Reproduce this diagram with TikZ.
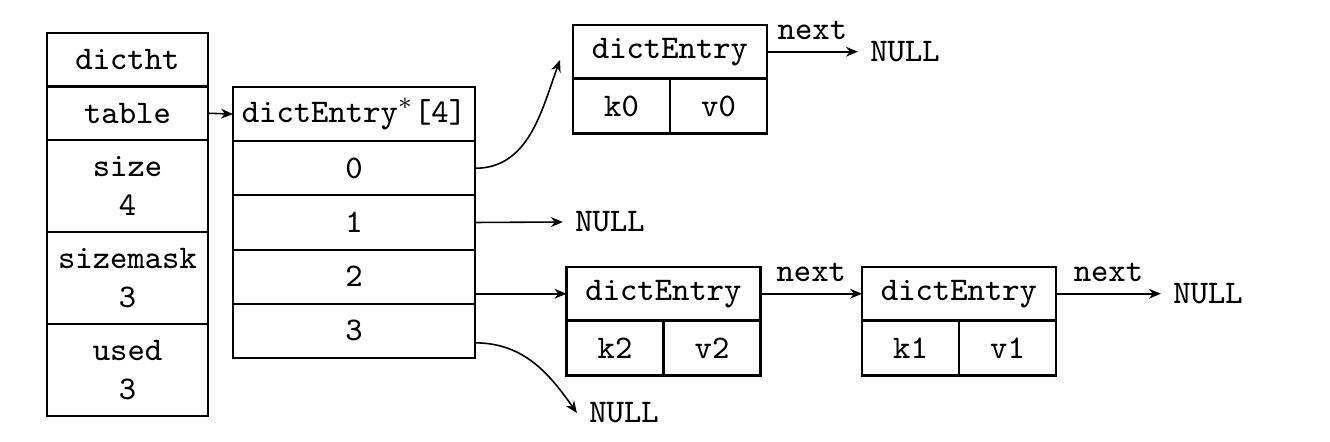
\documentclass[tikz,border=0pt]{standalone}
\usepackage{tikz}
\usetikzlibrary{arrows.meta}

\begin{document}
\begin{tikzpicture}[
  cell/.style={draw, line width=0.6pt, inner sep=0pt, outer sep=0pt, align=center, font=\ttfamily\fontsize{9.4}{11}\selectfont},
  htcell/.style={cell, minimum width=1.61cm, minimum height=0.535cm},
  httall/.style={htcell, minimum height=0.92cm},
  slot/.style={cell, minimum width=2.42cm, minimum height=0.542cm},
  entryhead/.style={cell, minimum width=1.94cm, minimum height=0.535cm},
  entryhalf/.style={cell, minimum width=0.97cm, minimum height=0.55cm},
  nulltext/.style={font=\ttfamily\fontsize{9.4}{11}\selectfont},
  nextlabel/.style={font=\ttfamily\fontsize{9.4}{11}\selectfont, midway, above},
  ptr/.style={-{Stealth[length=3.4pt,width=2.8pt]}, line width=0.45pt}
]
\useasboundingbox (0,0) rectangle (13.3,4.42);

% dictht structure
\node[htcell] (dictht) at (1.275,3.8225) {dictht};
\node[htcell, anchor=north] (table) at (dictht.south) {table};
\node[httall, anchor=north] (size) at (table.south) {size\\4};
\node[httall, anchor=north] (sizemask) at (size.south) {sizemask\\3};
\node[httall, anchor=north] (used) at (sizemask.south) {used\\3};

% bucket array
\node[slot] (head) at (3.54,3.279) {dictEntry$^{*}$[4]};
\node[slot, anchor=north] (r0) at (head.south) {0};
\node[slot, anchor=north] (r1) at (r0.south) {1};
\node[slot, anchor=north] (r2) at (r1.south) {2};
\node[slot, anchor=north] (r3) at (r2.south) {3};

\draw[ptr] (table.east) -- (head.west);

% entry in bucket 0
\node[entryhead] (e0) at (6.70,3.9025) {dictEntry};
\node[entryhalf, anchor=north west] (k0) at (e0.south west) {k0};
\node[entryhalf, anchor=north east] (v0) at (e0.south east) {v0};
\node[nulltext] (n0) at (9.05,3.9025) {NULL};
\coordinate (p0) at (5.60,3.82);

% entries in bucket 2
\node[entryhead] (e2) at (6.635,1.4825) {dictEntry};
\node[entryhalf, anchor=north west] (k2) at (e2.south west) {k2};
\node[entryhalf, anchor=north east] (v2) at (e2.south east) {v2};
\node[entryhead] (e1) at (9.59,1.4825) {dictEntry};
\node[entryhalf, anchor=north west] (k1) at (e1.south west) {k1};
\node[entryhalf, anchor=north east] (v1) at (e1.south east) {v1};
\node[nulltext] (n2) at (12.08,1.4825) {NULL};

% empty buckets
\node[nulltext] (n1) at (6.10,2.20) {NULL};
\node[nulltext] (n3) at (6.24,0.29) {NULL};

% pointers
\draw[ptr] (r0.east) to[out=0, in=250] (p0);
\draw[ptr] (r1.east) -- (n1.west);
\draw[ptr] (r2.east |- e2.west) -- (e2.west);
\draw[ptr] ([yshift=-3.4pt]r3.east) to[out=0, in=125] (n3.west);
\draw[ptr] (e0.east) -- (n0.west) node[nextlabel] {next};
\draw[ptr] (e2.east) -- (e1.west) node[nextlabel] {next};
\draw[ptr] (e1.east) -- (n2.west) node[nextlabel] {next};

\end{tikzpicture}
\end{document}
